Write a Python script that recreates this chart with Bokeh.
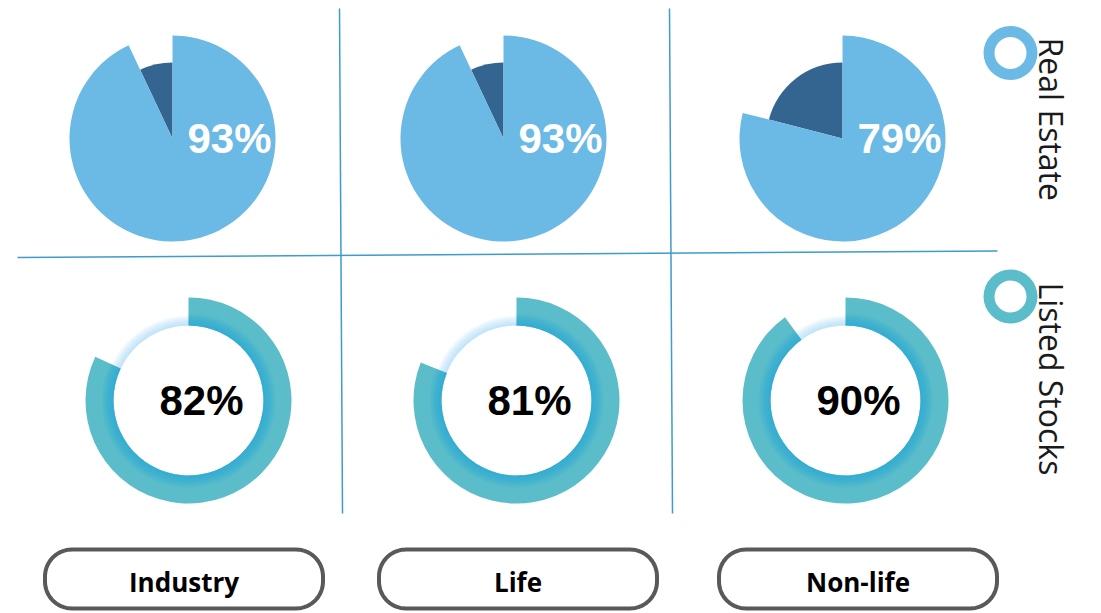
import numpy as np
from bokeh.plotting import figure
from bokeh.models import Range1d, ColumnDataSource
from bokeh.core.properties import value
from bokeh.embed import file_html
from bokeh.resources import INLINE

# ---------------- data ----------------
categories = ["Industry", "Life", "Non-life"]
real_estate_pct = [93, 93, 79]
listed_stocks_pct = [82, 81, 90]
legend_labels = ["Real Estate", "Listed Stocks"]

# ---------------- layout / style ----------------
W, H = 1101, 613


def Y(s):
    """convert a screen y (pixels from top) to data y"""
    return H - np.asarray(s, dtype=float)


PIE_CX = np.array([172.0, 503.0, 842.0])
PIE_CY = 138.0
PIE_R = 103.0
PIE_R_DARK = 76.0
DON_CX = np.array([188.0, 516.0, 845.0])
DON_CY = 400.0
DON_RIN = 75.0
DON_ROUT = 103.0
BTN_CX = np.array([183.5, 517.5, 857.5])
BTN_W = 282.0

C_LIGHT = "#6BB9E5"
C_DARK = "#336590"
C_TEAL = "#5ABDC9"
C_GLOW = "#1EA9DC"
C_GAP_GLOW = "#9FD8F3"
C_GRID = "#3E9BCB"

p = figure(width=W, height=H, x_range=Range1d(0, W), y_range=Range1d(0, H),
           output_backend="svg", toolbar_location=None, min_border=0,
           x_axis_type=None, y_axis_type=None)
p.grid.visible = False
p.outline_line_color = None
p.background_fill_color = "white"
p.border_fill_color = "white"

# ---------------- grid lines ----------------
p.line(x=[17, 997], y=Y([257, 250.5]), line_color=C_GRID, line_width=1.5)
p.line(x=[339, 342], y=Y([8, 513]), line_color=C_GRID, line_width=1.5)
p.line(x=[669, 672], y=Y([8, 513]), line_color=C_GRID, line_width=1.5)

# ---------------- pies (Real Estate) ----------------
re_frac = np.array(real_estate_pct) / 100.0
top = np.pi / 2
pie_src = ColumnDataSource(dict(
    x=PIE_CX, y=Y(np.full(3, PIE_CY)),
    s_main=top - 2 * np.pi * re_frac, e_main=np.full(3, top),
    s_rest=np.full(3, top), e_rest=top + 2 * np.pi * (1 - re_frac),
    label=[f"{v}%" for v in real_estate_pct],
    lx=PIE_CX + 57,
))
p.wedge(x="x", y="y", radius=PIE_R_DARK, start_angle="s_rest", end_angle="e_rest",
        fill_color=C_DARK, line_color=None, source=pie_src)
p.wedge(x="x", y="y", radius=PIE_R, start_angle="s_main", end_angle="e_main",
        fill_color=C_LIGHT, line_color=None, source=pie_src)
p.text(x="lx", y="y", text="label", source=pie_src, text_color="white",
       text_font=value("Liberation Sans"), text_font_style="bold", text_font_size="42px",
       text_align="center", text_baseline="middle")

# ---------------- donuts (Listed Stocks) ----------------
ls_frac = np.array(listed_stocks_pct) / 100.0
don_src = ColumnDataSource(dict(
    x=DON_CX, y=Y(np.full(3, DON_CY)),
    s_main=top - 2 * np.pi * ls_frac, e_main=np.full(3, top),
    s_rest=np.full(3, top), e_rest=top + 2 * np.pi * (1 - ls_frac),
    label=[f"{v}%" for v in listed_stocks_pct],
    lx=DON_CX + 13,
))
# faint glow in the empty part
for k in range(1, 8):
    p.annular_wedge(x="x", y="y", inner_radius=DON_RIN, outer_radius=DON_RIN + 1.4 * k,
                    start_angle="s_rest", end_angle="e_rest", fill_color=C_GAP_GLOW,
                    fill_alpha=0.12, line_color=None, source=don_src)
p.annular_wedge(x="x", y="y", inner_radius=DON_RIN, outer_radius=DON_ROUT,
                start_angle="s_main", end_angle="e_main", fill_color=C_TEAL,
                line_color=None, source=don_src)
for k in range(1, 11):
    p.annular_wedge(x="x", y="y", inner_radius=DON_RIN, outer_radius=DON_RIN + 1.2 * k,
                    start_angle="s_main", end_angle="e_main", fill_color=C_GLOW,
                    fill_alpha=0.09, line_color=None, source=don_src)
p.text(x="lx", y="y", text="label", source=don_src, text_color="black",
       text_font=value("Liberation Sans"), text_font_style="bold", text_font_size="42px",
       text_align="center", text_baseline="middle")

# ---------------- legend (right side, rotated) ----------------
leg_src = ColumnDataSource(dict(
    x=[1010.0, 1010.0], y=Y([52.5, 296.0]),
    color=[C_LIGHT, C_TEAL],
    tx=[1051.0, 1051.0], ty=Y([37.0, 282.0]),
    label=legend_labels,
))
p.annulus(x="x", y="y", inner_radius=16, outer_radius=27, fill_color="color",
          line_color=None, source=leg_src)
p.text(x="tx", y="ty", text="label", source=leg_src, angle=-np.pi / 2,
       text_color="#1a1a1a", text_font=value("Open Sans"), text_font_size="32px",
       text_align="left", text_baseline="alphabetic")

# ---------------- category buttons ----------------
def pill(cx, w, top_s, bot_s, r):
    x0, x1 = cx - w / 2, cx + w / 2
    y0, y1 = Y(bot_s), Y(top_s)
    xs, ys = [], []
    corners = [(x1 - r, y1 - r, 0, np.pi / 2), (x0 + r, y1 - r, np.pi / 2, np.pi),
               (x0 + r, y0 + r, np.pi, 1.5 * np.pi), (x1 - r, y0 + r, 1.5 * np.pi, 2 * np.pi)]
    for ccx, ccy, a0, a1 in corners:
        t = np.linspace(a0, a1, 16)
        xs.extend(ccx + r * np.cos(t))
        ys.extend(ccy + r * np.sin(t))
    return xs, ys


bx, by = [], []
for cx in BTN_CX:
    xs, ys = pill(cx, BTN_W - 4, 549, 608, 27)
    bx.append(xs)
    by.append(ys)
p.patches(xs=bx, ys=by, fill_color="white", line_color="#595959", line_width=4)
p.text(x=BTN_CX, y=Y(np.full(3, 581.0)), text=categories, text_color="black",
       text_font=value("Open Sans"), text_font_style="bold", text_font_size="26px",
       text_align="center", text_baseline="middle")

open("out.html", "w").write(file_html(p, INLINE))
